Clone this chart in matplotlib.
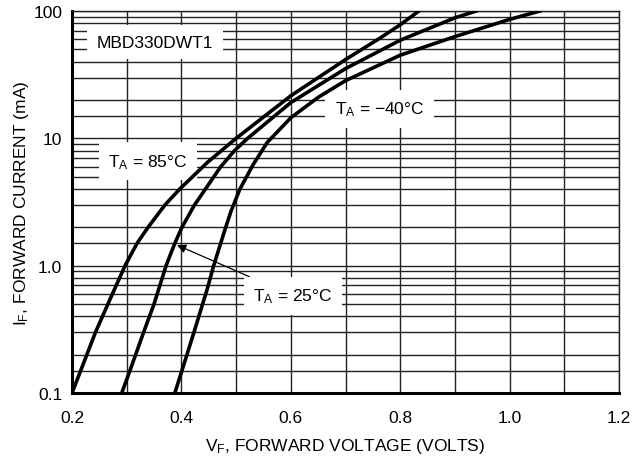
import matplotlib
matplotlib.use('Agg')
import matplotlib.pyplot as plt
from matplotlib.ticker import FixedLocator, NullFormatter

plt.rcParams['font.family'] = ['Liberation Sans', 'DejaVu Sans']
plt.rcParams['mathtext.default'] = 'regular'

# data (VF in volts, IF in mA)
vf_85 = [0.200, 0.216, 0.243, 0.270, 0.297, 0.319, 0.339, 0.370, 0.397, 0.448, 0.500, 0.600, 0.700, 0.763, 0.800, 0.834]
if_85 = [0.1, 0.15, 0.3, 0.55, 1.0, 1.5, 2.0, 3.0, 4.0, 6.5, 10, 21.6, 41.6, 61.3, 78, 100]

vf_25 = [0.291, 0.306, 0.331, 0.350, 0.372, 0.388, 0.401, 0.424, 0.444, 0.472, 0.497, 0.521, 0.600, 0.700, 0.800, 0.900, 0.939]
if_25 = [0.1, 0.15, 0.3, 0.5, 1.0, 1.5, 2.0, 3.0, 4.0, 6.0, 8.0, 10, 19.1, 35.3, 59, 88.5, 100]

vf_m40 = [0.388, 0.401, 0.423, 0.447, 0.459, 0.480, 0.491, 0.507, 0.531, 0.557, 0.600, 0.650, 0.700, 0.800, 0.900, 1.000, 1.055]
if_m40 = [0.1, 0.15, 0.3, 0.65, 1.0, 1.94, 2.7, 4.0, 6.2, 9.3, 14.5, 21, 28.4, 45, 63, 86, 100]

x_ticks = [0.2, 0.4, 0.6, 0.8, 1.0, 1.2]
x_labels = ['0.2', '0.4', '0.6', '0.8', '1.0', '1.2']
x_grid = [0.3, 0.5, 0.7, 0.9, 1.1]
y_ticks = [0.1, 1, 10, 100]
y_labels = ['0.1', '1.0', '10', '100']
y_grid = [m * d for d in (0.1, 1, 10) for m in (1.5, 2, 3, 4, 5, 6, 7, 8, 9)]

fig = plt.figure(figsize=(6.44, 4.64), dpi=100)
ax = fig.add_axes([0.1118, 0.151, 0.8494, 0.823])

for xs, ys in ((vf_85, if_85), (vf_25, if_25), (vf_m40, if_m40)):
    ax.plot(xs, ys, color='black', lw=2.6, solid_joinstyle='round', zorder=5)

ax.set_yscale('log')
ax.set_xlim(0.2, 1.2)
ax.set_ylim(0.1, 100)
ax.set_xticks(x_ticks)
ax.set_xticklabels(x_labels)
ax.xaxis.set_minor_locator(FixedLocator(x_grid))
ax.set_yticks(y_ticks)
ax.set_yticklabels(y_labels)
ax.yaxis.set_minor_locator(FixedLocator(y_grid))
ax.yaxis.set_minor_formatter(NullFormatter())
ax.grid(True, which='both', color='#222222', lw=1.0, zorder=1)
ax.tick_params(which='both', length=0, labelsize=12.5)
ax.tick_params(axis='x', pad=12)
ax.tick_params(axis='y', pad=7)

for s in ('left', 'bottom'):
    ax.spines[s].set_linewidth(2.2)
for s in ('top', 'right'):
    ax.spines[s].set_linewidth(1.0)
    ax.spines[s].set_color('#222222')

box = dict(facecolor='white', edgecolor='none', pad=7)
ax.text(0.352, 57, 'MBD330DWT1', fontsize=12.5, ha='center', va='center', bbox=box, zorder=4)
ax.text(0.339, 6.6, 'T$_A$ = 85°C', fontsize=12.5, ha='center', va='center', bbox=box, zorder=4)
ax.text(0.762, 17, 'T$_A$ = \u221240°C', fontsize=12.5, ha='center', va='center', bbox=box, zorder=4)
ax.annotate('T$_A$ = 25°C', xy=(0.392, 1.45), xytext=(0.604, 0.58),
            fontsize=12.5, ha='center', va='center', bbox=box, zorder=6,
            arrowprops=dict(arrowstyle='-|>', color='black', lw=0.9, shrinkA=0, shrinkB=0,
                            mutation_scale=13))

ax.set_xlabel('V$_F$, FORWARD VOLTAGE (VOLTS)', fontsize=12.5, labelpad=8)
ax.set_ylabel('I$_F$, FORWARD CURRENT (mA)', fontsize=12.5)
ax.yaxis.set_label_coords(-0.075, 0.5)

fig.savefig('out.png', dpi=100)
